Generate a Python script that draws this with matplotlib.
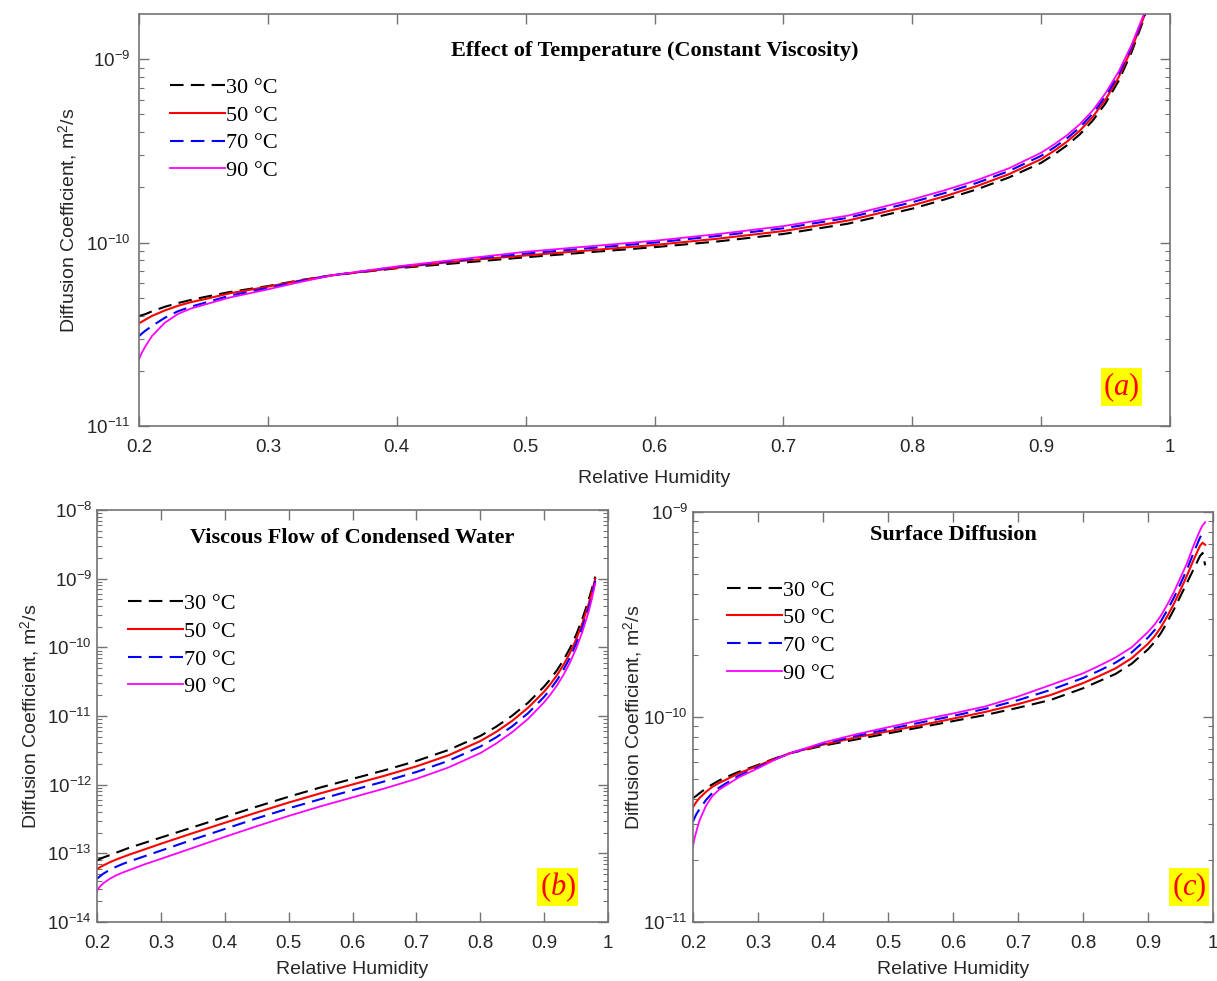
import numpy as np
import matplotlib
matplotlib.use('Agg')
import matplotlib.pyplot as plt
from matplotlib.ticker import LogLocator, NullFormatter

plt.rcParams['font.family'] = ['Liberation Sans', 'DejaVu Sans']
plt.rcParams['mathtext.fontset'] = 'custom'
plt.rcParams['mathtext.rm'] = 'Liberation Serif'
plt.rcParams['mathtext.it'] = 'Liberation Serif:italic'
plt.rcParams['axes.unicode_minus'] = False

temps = ['30 °C', '50 °C', '70 °C', '90 °C']

# (a) effect of temperature, constant viscosity -- log10 of D (m2/s)
rh_a = [0.2, 0.202, 0.205, 0.21, 0.22, 0.23, 0.24, 0.25, 0.27, 0.3, 0.325, 0.35, 0.4,
        0.45, 0.5, 0.55, 0.6, 0.65, 0.7, 0.75, 0.8, 0.825, 0.85, 0.875, 0.9, 0.91,
        0.92, 0.93, 0.94, 0.95, 0.96, 0.97, 0.98, 0.99]
logd_a_30 = [-10.40, -10.396, -10.39, -10.375, -10.35, -10.33, -10.313, -10.298, -10.27,
             -10.237, -10.205, -10.178, -10.14, -10.11, -10.08, -10.052, -10.025, -9.993,
             -9.953, -9.897, -9.815, -9.765, -9.71, -9.645, -9.565, -9.52, -9.47, -9.41,
             -9.335, -9.24, -9.12, -8.965, -8.775, -8.52]
logd_a_50 = [-10.44, -10.432, -10.42, -10.40, -10.37, -10.345, -10.325, -10.31, -10.277,
             -10.24, -10.207, -10.178, -10.137, -10.10, -10.07, -10.042, -10.013, -9.978,
             -9.937, -9.88, -9.797, -9.748, -9.692, -9.627, -9.545, -9.50, -9.45, -9.39,
             -9.315, -9.22, -9.10, -8.948, -8.765, -8.51]
logd_a_70 = [-10.51, -10.497, -10.48, -10.455, -10.41, -10.375, -10.35, -10.33, -10.29,
             -10.247, -10.21, -10.178, -10.133, -10.095, -10.06, -10.03, -10.00, -9.963,
             -9.922, -9.865, -9.78, -9.73, -9.675, -9.61, -9.527, -9.482, -9.432, -9.372,
             -9.297, -9.202, -9.085, -8.935, -8.757, -8.505]
logd_a_90 = [-10.636, -10.603, -10.565, -10.51, -10.437, -10.39, -10.36, -10.34, -10.30,
             -10.255, -10.215, -10.178, -10.13, -10.09, -10.05, -10.02, -9.99, -9.953,
             -9.91, -9.853, -9.765, -9.715, -9.66, -9.595, -9.51, -9.465, -9.415, -9.355,
             -9.28, -9.185, -9.07, -8.925, -8.75, -8.50]

# (b) viscous flow of condensed water
rh_b = [0.2, 0.202, 0.205, 0.21, 0.22, 0.23, 0.24, 0.25, 0.275, 0.3, 0.35, 0.4, 0.45,
        0.5, 0.55, 0.6, 0.65, 0.7, 0.75, 0.8, 0.825, 0.85, 0.875, 0.9, 0.91, 0.92,
        0.93, 0.94, 0.95, 0.96, 0.97, 0.975, 0.98]
logd_b_30 = [-13.10, -13.092, -13.08, -13.06, -13.025, -12.99, -12.955, -12.92, -12.845,
             -12.77, -12.62, -12.47, -12.32, -12.175, -12.04, -11.915, -11.79, -11.655,
             -11.495, -11.29, -11.155, -10.995, -10.805, -10.57, -10.46, -10.335, -10.19,
             -10.02, -9.82, -9.58, -9.30, -9.14, -8.97]
logd_b_50 = [-13.23, -13.218, -13.20, -13.175, -13.13, -13.09, -13.055, -13.02, -12.94,
             -12.86, -12.705, -12.555, -12.405, -12.26, -12.125, -11.997, -11.87, -11.733,
             -11.573, -11.365, -11.23, -11.07, -10.878, -10.645, -10.533, -10.407, -10.26,
             -10.09, -9.887, -9.645, -9.36, -9.19, -9.00]
logd_b_70 = [-13.37, -13.355, -13.33, -13.295, -13.24, -13.195, -13.155, -13.12, -13.04,
             -12.96, -12.80, -12.645, -12.49, -12.345, -12.21, -12.08, -11.952, -11.815,
             -11.653, -11.445, -11.31, -11.15, -10.957, -10.72, -10.607, -10.48, -10.33,
             -10.157, -9.952, -9.705, -9.415, -9.24, -9.03]
logd_b_90 = [-13.55, -13.515, -13.48, -13.435, -13.37, -13.32, -13.28, -13.245, -13.158,
             -13.08, -12.92, -12.76, -12.605, -12.455, -12.315, -12.185, -12.055, -11.915,
             -11.75, -11.54, -11.40, -11.235, -11.04, -10.80, -10.685, -10.555, -10.405,
             -10.23, -10.02, -9.77, -9.47, -9.28, -9.07]

# (c) surface diffusion
rh_c = [0.2, 0.202, 0.205, 0.21, 0.22, 0.23, 0.24, 0.25, 0.27, 0.3, 0.325, 0.35, 0.4,
        0.45, 0.5, 0.55, 0.6, 0.65, 0.7, 0.75, 0.8, 0.825, 0.85, 0.875, 0.9, 0.91,
        0.92, 0.93, 0.94, 0.95, 0.96, 0.97, 0.98, 0.984, 0.988]
logd_c_30 = [-10.395, -10.391, -10.385, -10.372, -10.348, -10.328, -10.31, -10.295, -10.268,
             -10.234, -10.203, -10.176, -10.14, -10.11, -10.08, -10.05, -10.02, -9.99,
             -9.955, -9.917, -9.86, -9.825, -9.79, -9.74, -9.67, -9.635, -9.59, -9.535,
             -9.475, -9.41, -9.345, -9.28, -9.215, -9.20, -9.26]
logd_c_50 = [-10.44, -10.43, -10.415, -10.395, -10.365, -10.34, -10.322, -10.307, -10.275,
             -10.238, -10.205, -10.176, -10.135, -10.10, -10.07, -10.04, -10.008, -9.975,
             -9.937, -9.893, -9.835, -9.80, -9.763, -9.713, -9.643, -9.607, -9.562, -9.507,
             -9.447, -9.38, -9.31, -9.235, -9.165, -9.15, -9.16]
logd_c_70 = [-10.51, -10.496, -10.475, -10.45, -10.405, -10.37, -10.345, -10.325, -10.287,
             -10.245, -10.208, -10.176, -10.13, -10.093, -10.06, -10.027, -9.995, -9.96,
             -9.918, -9.868, -9.81, -9.774, -9.735, -9.685, -9.613, -9.577, -9.532, -9.477,
             -9.417, -9.35, -9.28, -9.20, -9.125, -9.105, -9.10]
logd_c_90 = [-10.63, -10.597, -10.56, -10.505, -10.433, -10.385, -10.355, -10.335, -10.295,
             -10.25, -10.21, -10.176, -10.125, -10.085, -10.05, -10.015, -9.983, -9.948,
             -9.90, -9.844, -9.787, -9.75, -9.71, -9.66, -9.585, -9.55, -9.505, -9.45,
             -9.39, -9.32, -9.25, -9.165, -9.09, -9.065, -9.05]

styles = [dict(color='black', ls=(0, (6.5, 3.5)), lw=1.5),
          dict(color='red', ls='-', lw=1.5),
          dict(color='blue', ls=(0, (6.5, 3.5)), lw=1.5),
          dict(color='magenta', ls='-', lw=1.3)]

xticks = [0.2, 0.3, 0.4, 0.5, 0.6, 0.7, 0.8, 0.9, 1.0]
xticklabels = ['0.2', '0.3', '0.4', '0.5', '0.6', '0.7', '0.8', '0.9', '1']
edge = '0.45'


def panel(ax, rh, series, ylim, title, title_y, tag, tag_xy, leg_xy, ylab_x, ypad, xlab_y):
    for logd, lab, st in zip(series, temps, styles):
        ax.plot(rh, 10.0 ** np.array(logd), label=lab, **st)
    ax.set_yscale('log')
    ax.set_xlim(0.2, 1.0)
    ax.set_ylim(*ylim)
    ax.set_xticks(xticks)
    ax.set_xticklabels(xticklabels)
    ax.yaxis.set_major_locator(LogLocator(base=10, numticks=20))
    ax.yaxis.set_minor_locator(LogLocator(base=10, subs=np.arange(2, 10), numticks=20))
    ax.yaxis.set_minor_formatter(NullFormatter())
    ax.tick_params(which='both', direction='in', top=True, right=True,
                   color=edge, labelcolor='#262626', labelsize=13.5)
    ax.tick_params(which='major', length=7, width=1)
    ax.tick_params(which='minor', length=3.5, width=0.8)
    ax.tick_params(axis='x', pad=9)
    ax.tick_params(axis='y', pad=ypad)
    for s in ax.spines.values():
        s.set_color(edge)
        s.set_linewidth(1.2)
    ax.set_xlabel('Relative Humidity', fontsize=14, color='#262626', va='top')
    ax.xaxis.set_label_coords(0.5, xlab_y)
    ax.set_ylabel(r'Diffusion Coefficient, m$^{\mathdefault{2}}$/s', fontsize=14,
                  color='#262626')
    ax.yaxis.set_label_coords(ylab_x, 0.5)
    ax.text(0.5, title_y, title, transform=ax.transAxes, ha='center', va='center',
            fontsize=16, fontweight='bold', family='Liberation Serif')
    ax.text(tag_xy[0], tag_xy[1], '($\\it{' + tag + '}$)', transform=ax.transAxes,
            ha='center', va='center', fontsize=22, color='red', family='Liberation Serif',
            bbox=dict(boxstyle='square,pad=0.08', fc='yellow', ec='none'))
    ax.legend(loc='upper left', bbox_to_anchor=leg_xy, frameon=False,
              prop={'family': 'Liberation Serif', 'size': 16},
              handlelength=2.48, handletextpad=0.05, labelspacing=0.32,
              borderpad=0, borderaxespad=0)


fig = plt.figure(figsize=(12.17, 9.81), dpi=100)
ax_a = fig.add_axes([0.1142, 0.5657, 0.8472, 0.42])
ax_b = fig.add_axes([0.0797, 0.0601, 0.4199, 0.42])
ax_c = fig.add_axes([0.5694, 0.0601, 0.4273, 0.418])

panel(ax_a, rh_a, [logd_a_30, logd_a_50, logd_a_70, logd_a_90], (1e-11, 10 ** -8.754),
      'Effect of Temperature (Constant Viscosity)', 0.91, 'a', (0.953, 0.095),
      (0.030, 0.846), -0.057, 6, -0.107)
panel(ax_b, rh_b, [logd_b_30, logd_b_50, logd_b_70, logd_b_90], (1e-14, 1e-8),
      'Viscous Flow of Condensed Water', 0.932, 'b', (0.902, 0.085),
      (0.060, 0.797), -0.107, 3.5, -0.094)
panel(ax_c, rh_c, [logd_c_30, logd_c_50, logd_c_70, logd_c_90], (1e-11, 1e-9),
      'Surface Diffusion', 0.944, 'c', (0.954, 0.085),
      (0.065, 0.834), -0.093, 3.5, -0.094)

fig.savefig('out.png', dpi=100)
